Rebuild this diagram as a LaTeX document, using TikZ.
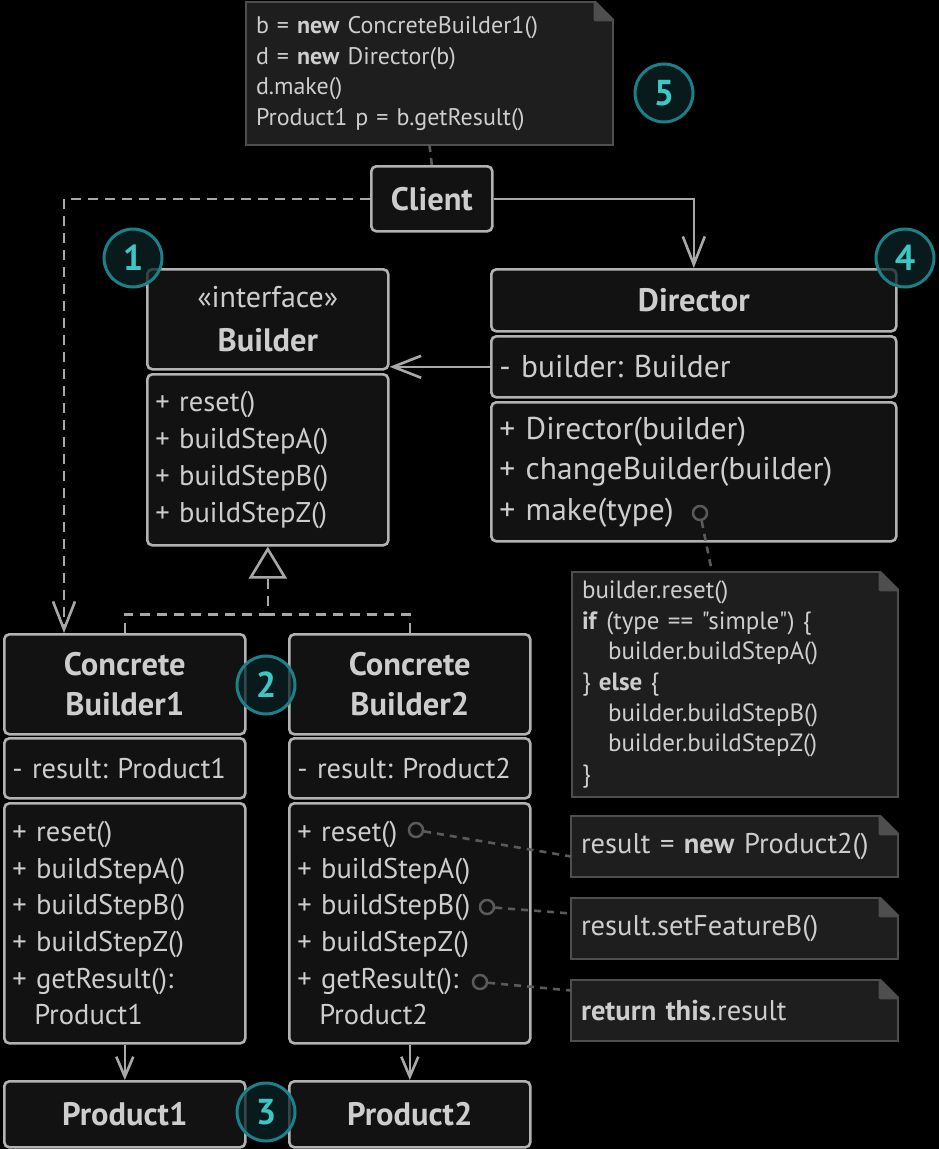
\documentclass[tikz,border=0pt]{standalone}
\usepackage{fontspec}
\setmainfont{PT Sans}
\newfontfamily\notefont{PT Sans}
\frenchspacing
\usetikzlibrary{arrows.meta}

\definecolor{boxbg}{HTML}{121212}
\definecolor{edge}{HTML}{B2B2B2}
\definecolor{txt}{HTML}{CDCDCD}
\definecolor{wire}{HTML}{A8A8A8}
\definecolor{notebg}{HTML}{1E1E1E}
\definecolor{noteedge}{HTML}{4E4E4E}
\definecolor{portc}{HTML}{5A5A5A}
\definecolor{tealline}{HTML}{1B8189}
\definecolor{tealbg}{HTML}{0D2427}
\definecolor{tealtxt}{HTML}{3CC6C4}

\newcommand\headfont{\bfseries\fontsize{32.5}{40}\selectfont}
\newcommand\bodyfont{\fontsize{28.5}{37}\selectfont}
\newcommand\dirfont{\fontsize{31.5}{40.5}\selectfont}
\newcommand\codefont{\notefont\fontsize{25}{30.7}\selectfont}

% folded corner of a note
\newcommand\dogear[1]{%
  \fill[black] ([xshift=-20pt,yshift=2pt]#1.north east) -- ([xshift=2pt,yshift=2pt]#1.north east) -- ([xshift=2pt,yshift=-20pt]#1.north east) -- cycle;
  \filldraw[draw=noteedge,fill=noteedge,line width=2.6pt,line join=round] ([xshift=-18pt]#1.north east) -- ([xshift=-18pt,yshift=-18pt]#1.north east) -- ([yshift=-18pt]#1.north east) -- cycle;}

\begin{document}
\begin{tikzpicture}[x=1pt,y=-1pt,
  every node/.style={text=txt},
  comp/.style={draw=edge,fill=boxbg,line width=2.6pt,rounded corners=5pt,anchor=north west,inner xsep=8pt,inner ysep=0pt},
  hd/.style={comp,align=center,font=\headfont},
  lst/.style={comp,align=left,font=\bodyfont},
  note/.style={draw=noteedge,fill=notebg,line width=2.6pt,anchor=north west,outer sep=0pt,align=left,font=\codefont,inner xsep=10pt,inner ysep=0pt},
  numc/.style={circle,draw=tealline,line width=3pt,fill=tealbg,fill opacity=0.75,text opacity=1,minimum size=58pt,inner sep=0pt,text=tealtxt,font=\bfseries\fontsize{36}{36}\selectfont},
  port/.style={circle,draw=portc,line width=2.5pt,fill=boxbg,minimum size=14pt,inner sep=0pt},
  assoc/.style={draw=wire,line width=2.6pt,-{Straight Barb[length=28pt,width=22pt]}},
  dep/.style={assoc,dash pattern=on 10pt off 7pt},
  real/.style={draw=wire,line width=2.6pt,dash pattern=on 10pt off 7pt},
  small/.style={draw=wire,line width=2.6pt,-{Straight Barb[length=20pt,width=17pt]}},
  link/.style={draw=portc,line width=2.6pt,dash pattern=on 7pt off 6pt}]

  \fill[black] (0,0) rectangle (939,1149);

  % client and its note
  \node[note,font=\notefont\fontsize{24}{30.7}\selectfont,minimum width=367pt,minimum height=143pt,text width=347pt] (nt) at (246,2)
    {b = \textbf{new} ConcreteBuilder1()\\d = \textbf{new} Director(b)\\d.make()\\Product1 p = b.getResult()};
  \dogear{nt}
  \node[hd,minimum width=121pt,minimum height=65pt] (cl) at (370,165) {Client};
  \draw[link] (nt.south) -- (cl.north);

  % builder interface
  \node[hd,minimum width=241pt,minimum height=100pt] (bh) at (146,268) {{\mdseries\fontsize{30}{40}\selectfont «interface»}\\[4pt]Builder};
  \node[lst,minimum width=241pt,minimum height=171pt,text width=225pt] (bm) at (146,373)
    {+ reset()\\+ buildStepA()\\+ buildStepB()\\+ buildStepZ()};

  % director
  \node[hd,minimum width=405pt,minimum height=62pt] (dh) at (490,268) {Director};
  \node[lst,font=\dirfont,minimum width=405pt,minimum height=61pt,text width=389pt] (df) at (490,335) {- builder: Builder};
  \node[lst,font=\dirfont,minimum width=405pt,minimum height=139pt,text width=389pt] (dm) at (490,401)
    {+ Director(builder)\\+ changeBuilder(builder)\\+ make(type)};
  \node[port] (p0) at (700,513) {};

  % concrete builders
  \foreach \n/\x in {1/3,2/288} {
    \node[hd,minimum width=241pt,minimum height=100pt] (c\n h) at (\x,633) {Concrete\\Builder\n};
    \node[lst,minimum width=241pt,minimum height=60pt,text width=225pt] (c\n f) at (\x,737) {- result: Product\n};
    \node[lst,font=\fontsize{28.5}{36.6}\selectfont,minimum width=241pt,minimum height=240pt,text width=225pt] (c\n m) at (\x,802)
      {+ reset()\\+ buildStepA()\\+ buildStepB()\\+ buildStepZ()\\+ getResult():\\\hspace*{22pt}Product\n};
    \node[hd,minimum width=241pt,minimum height=66pt] (pr\n) at (\x,1080) {Product\n};
    \draw[small] (c\n m.south) -- (pr\n.north);
  }
  \node[port] (p1) at (416,830) {};
  \node[port] (p2) at (487,907) {};
  \node[port] (p3) at (480,982) {};

  % notes on the right
  \node[note,minimum width=326pt,minimum height=225pt,text width=306pt] (nd) at (572,572)
    {builder.reset()\\\textbf{if} (type == "simple") \{\\\hspace*{26pt}builder.buildStepA()\\\} \textbf{else} \{\\\hspace*{26pt}builder.buildStepB()\\\hspace*{26pt}builder.buildStepZ()\\\}};
  \dogear{nd}
  \foreach \nm/\y/\txt in {na/816/{result = \textbf{new} Product2()},nb/898/{result.setFeatureB()},nc/980/{\textbf{return this}.result}} {
    \node[note,font=\notefont\fontsize{28.5}{34}\selectfont,minimum width=327pt,minimum height=61pt,text width=307pt] (\nm) at (571,\y) {\txt};
    \dogear{\nm}
  }

  \draw[link] (p0) -- ([xshift=140pt]nd.north west);
  \draw[link] (p1) -- ([yshift=-10pt]na.west);
  \draw[link] (p2) -- ([yshift=15pt]nb.west);
  \draw[link] (p3) -- ([yshift=20pt]nc.west);

  % relations
  \draw[dep] (cl.west) -| ([xshift=61pt]c1h.north west);
  \draw[assoc] (cl.east) -| (dh.north);
  \draw[assoc] (df.west) -- (df.west -| bm.east);
  \draw[real,-{Triangle[open,length=32pt,width=38pt]}] (c1h.north) |- ([yshift=-68pt]bm.south) -- (bm.south);
  \draw[real] (c2h.north) |- ([yshift=-68pt]bm.south);

  % numbered markers
  \node[numc] (n1) at (133,258) {1};
  \node[numc] (n2) at (266,685) {2};
  \node[numc] (n3) at (266,1112) {3};
  \node[numc] (n4) at (905,258) {4};
  \node[numc] (n5) at (664,93) {5};
\end{tikzpicture}
\end{document}
